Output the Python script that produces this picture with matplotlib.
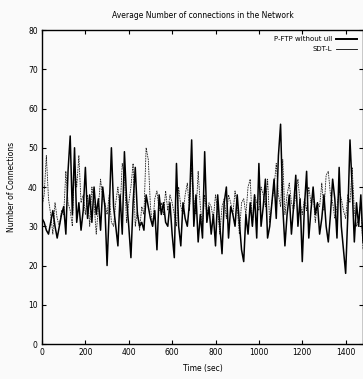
import matplotlib
matplotlib.use('Agg')
from matplotlib import pyplot as plt
from matplotlib.lines import Line2D
import numpy as np

# time axis, one sample every 10 s
t = np.arange(0, 1490, 10)

pftp = [32, 31, 29, 28, 31, 34, 30, 27, 30, 33,
        35, 28, 44, 53, 33, 50, 31, 36, 29, 34,
        45, 32, 38, 31, 40, 33, 37, 29, 40, 35,
        20, 34, 50, 35, 30, 25, 38, 28, 49, 37,
        30, 22, 36, 45, 33, 30, 31, 29, 38, 35,
        32, 30, 34, 24, 38, 33, 36, 31, 30, 36,
        28, 22, 46, 30, 25, 36, 32, 30, 36, 52,
        30, 38, 26, 33, 27, 49, 31, 35, 28, 33,
        25, 38, 30, 23, 36, 40, 27, 35, 33, 30,
        38, 31, 24, 21, 33, 28, 36, 30, 38, 27,
        46, 30, 35, 42, 27, 30, 36, 42, 32, 48,
        56, 35, 25, 33, 38, 28, 35, 43, 30, 37,
        21, 35, 44, 27, 34, 40, 33, 36, 28, 32,
        38, 30, 26, 33, 42, 37, 27, 45, 30, 24,
        18, 33, 52, 40, 26, 36, 30, 38, 26]

sdtl = [35, 38, 48, 37, 33, 28, 36, 32, 30, 34,
        33, 44, 36, 34, 30, 46, 40, 48, 36, 38,
        33, 38, 30, 40, 36, 28, 35, 42, 37, 36,
        33, 38, 31, 30, 36, 40, 34, 46, 43, 31,
        36, 40, 46, 30, 34, 29, 35, 33, 50, 47,
        35, 30, 37, 39, 34, 36, 33, 39, 34, 38,
        36, 33, 30, 40, 35, 33, 38, 41, 34, 45,
        37, 33, 44, 35, 30, 38, 33, 36, 35, 32,
        38, 34, 28, 35, 37, 32, 38, 36, 33, 39,
        35, 28, 36, 37, 33, 40, 42, 30, 38, 36,
        34, 40, 38, 35, 42, 31, 36, 40, 46, 38,
        35, 47, 33, 38, 41, 36, 34, 38, 42, 36,
        33, 37, 34, 40, 36, 38, 31, 36, 35, 41,
        34, 43, 44, 38, 36, 32, 35, 39, 37, 34,
        32, 38, 36, 45, 34, 30, 32, 36, 24]

xticks = [0, 200, 400, 600, 800, 1000, 1200, 1400]
yticks = [0, 10, 20, 30, 40, 50, 60, 70, 80]

fig = plt.figure(figsize=(3.63, 3.79), dpi=100, facecolor='#fafafa')
ax = fig.add_axes([0.1157, 0.0923, 0.8843, 0.8285], facecolor='#fafafa')

ax.plot(t, sdtl, color='#222222', linewidth=0.6, linestyle=(0, (2, 1)))
ax.plot(t, pftp, color='black', linewidth=1.1)

ax.set_xlim(0, 1480)
ax.set_ylim(0, 80)
ax.set_xticks(xticks)
ax.set_yticks(yticks)
ax.tick_params(direction='in', length=3, width=0.8, labelsize=5.5,
               top=True, right=True, pad=3)
for s in ax.spines.values():
    s.set_linewidth(1.0)

ax.set_title('Average Number of connections in the Network', fontsize=5.5, pad=9)
ax.set_xlabel('Time (sec)', fontsize=5.5, labelpad=5)
ax.set_ylabel('Number of Connections', fontsize=5.5, labelpad=9)

handles = [Line2D([], [], color='black', linewidth=1.4),
           Line2D([], [], color='black', linewidth=0.6)]
ax.legend(handles, ['P-FTP without ull', 'SDT-L'], loc='upper right',
          frameon=False, markerfirst=False, fontsize=5, handlelength=3,
          labelspacing=0.6, borderaxespad=0.5, handletextpad=0.6)

plt.savefig('out.png', dpi=100, facecolor=fig.get_facecolor())
